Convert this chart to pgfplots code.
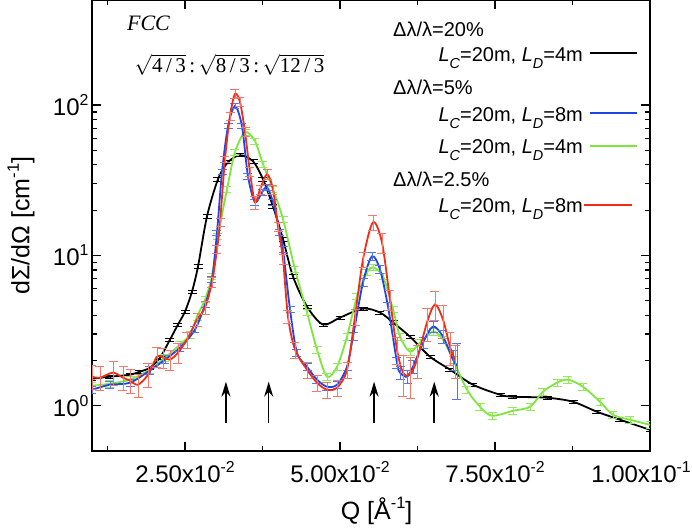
\documentclass[border=0pt]{standalone}
\usepackage{fontspec}
\setmainfont{Liberation Sans}
\newfontfamily\timesfont{Liberation Serif}
\usepackage{pgfplots}
\pgfplotsset{compat=1.18}
\usepackage{pgfplotstable}
\usetikzlibrary{arrows.meta}

\makeatletter
\newcommand\sups[1]{\raisebox{0.42em}{\fontsize{\fpeval{0.66*\f@size}}{1}\selectfont #1}}
\newcommand\subs[1]{\raisebox{-0.32em}{\fontsize{\fpeval{0.72*\f@size}}{1}\selectfont #1}}
\makeatother

\definecolor{cblue}{RGB}{30,70,230}
\definecolor{cgreen}{RGB}{125,230,60}
\definecolor{cred}{RGB}{240,45,25}

\pgfplotstableread{
x y
0.0100 1.514
0.0129 1.561
0.01613 1.609
0.01774 1.686
0.01935 1.791
0.02097 2.089
0.02258 2.754
0.02387 3.47
0.0250 4.233
0.02613 5.75
0.0271 8.45
0.02855 18.2
0.03032 32.1
0.03194 41.7
0.03387 46.4
0.03597 42.3
0.03758 32.1
0.03919 21.2
0.04081 12.8
0.04242 7.24
0.04468 4.57
0.04726 3.47
0.0500 3.86
0.05371 4.43
0.05645 4.17
0.05855 3.58
0.06129 2.88
0.06452 2.12
0.06774 1.74
0.07145 1.38
0.07581 1.184
0.0779 1.148
0.08339 1.131
0.08758 1.063
0.09145 0.912
0.09516 0.807
0.1000 0.692
}\blackdata

\pgfplotstableread{
x y
0.0100 1.359
0.0129 1.402
0.01613 1.491
0.01935 1.738
0.02177 2.089
0.02419 2.551
0.02581 2.973
0.02694 3.92
0.02823 5.09
0.02935 7.24
0.03032 13.4
0.03177 27.5
0.03306 48.6
0.03468 66.1
0.03629 57.5
0.03758 40.4
0.03919 27.5
0.04081 17.4
0.04274 8.07
0.04468 4.17
0.04629 2.362
0.0479 1.561
0.04952 1.820
0.05113 2.884
0.05274 5.33
0.05435 7.70
0.05532 8.32
0.05694 7.24
0.05855 4.37
0.05968 2.884
0.06129 2.291
0.0629 2.630
0.0650 3.113
0.06661 2.754
0.06823 2.026
0.07048 1.278
0.07258 0.985
0.07452 0.858
0.0779 0.926
0.08065 0.985
0.08274 1.240
0.0850 1.423
0.08677 1.491
0.08919 1.339
0.09194 1.063
0.09403 0.871
0.09677 0.807
0.1000 0.747
}\greendata

\pgfplotstableread{
x y e
0.0100 1.278 0.06
0.0129 1.380 0.06
0.01613 1.423 0.06
0.01935 1.72 0.06
0.02177 2.026 0.06
0.02419 2.436 0.06
0.02661 3.213 0.05
0.02823 4.715 0.05
0.02935 6.92 0.05
0.03016 14.2 0.04
0.03097 35.8 0.04
0.03194 72.4 0.04
0.03306 98.5 0.04
0.03419 72.4 0.04
0.03516 33.6 0.04
0.03629 22.6 0.05
0.03742 26.3 0.05
0.03823 28.4 0.05
0.03919 22.6 0.05
0.04032 14.2 0.05
0.04081 10.96 0.05
0.04194 4.37 0.05
0.04306 2.256 0.05
0.04468 1.820 0.05
0.04629 1.491 0.06
0.0479 1.339 0.06
0.04952 1.380 0.06
0.05113 1.820 0.06
0.0521 2.884 0.06
0.05371 6.61 0.06
0.05516 9.85 0.06
0.05645 8.07 0.06
0.05774 4.57 0.06
0.05919 1.935 0.08
0.05968 1.660 0.10
0.06081 1.561 0.10
0.06177 1.820 0.10
0.06339 2.630 0.08
0.0650 3.364 0.08
0.06661 2.884 0.10
0.06823 2.026 0.15
0.06887 1.848 0.40
}\bluedata

\pgfplotstableread{
x y e
0.0100 1.561 0.18
0.01129 1.537 0.18
0.01339 1.660 0.18
0.0150 1.537 0.18
0.01613 1.468 0.18
0.01742 1.380 0.18
0.01903 1.609 0.18
0.02048 2.122 0.15
0.02145 2.089 0.15
0.02258 2.026 0.15
0.02387 2.256 0.15
0.02532 2.754 0.12
0.02694 3.745 0.10
0.02823 4.50 0.10
0.02935 6.61 0.08
0.03016 10.96 0.06
0.03065 16.6 0.06
0.03145 43.7 0.05
0.03226 84.5 0.06
0.03306 118.4 0.07
0.03387 104.7 0.07
0.03468 66.1 0.07
0.03548 35.8 0.07
0.03629 22.6 0.10
0.0371 27.5 0.07
0.03823 34.7 0.07
0.03919 27.5 0.07
0.0400 15.6 0.07
0.04081 9.40 0.08
0.04161 3.92 0.10
0.04274 2.362 0.12
0.04468 1.738 0.12
0.04629 1.423 0.12
0.0479 1.278 0.12
0.04952 1.318 0.12
0.05113 1.738 0.12
0.05242 3.92 0.12
0.05371 9.40 0.12
0.05532 16.6 0.12
0.05677 12.2 0.15
0.05806 5.09 0.15
0.05919 2.362 0.20
0.06016 1.660 0.30
0.06129 1.609 0.30
0.06242 2.026 0.25
0.06403 3.58 0.25
0.06532 4.715 0.22
0.06661 3.745 0.25
0.06774 2.472 0.25
0.06855 2.026 0.25
}\reddata

\begin{document}
\begin{tikzpicture}
\useasboundingbox (-92pt,-76pt) rectangle (600pt,451pt);
\begin{axis}[
  scale only axis, width=558pt, height=451pt,
  at={(0pt,0pt)}, anchor=south west,
  xmin=0.01, xmax=0.1, ymode=log, ymin=0.5, ymax=500,
  xtick={0.025,0.05,0.075,0.1},
  xticklabels={2.50x10\sups{-2}, 5.00x10\sups{-2}, 7.50x10\sups{-2}, \hspace*{-18pt}1.00x10\sups{-1}},
  minor xtick={0.0125,0.0375,0.0625,0.0875},
  ytick={1,10,100},
  yticklabels={10\sups{0},10\sups{1},10\sups{2}},
  scaled x ticks=false,
  tick align=inside, major tick length=9pt, minor tick length=5pt,
  every tick/.style={black, line width=1.2pt},
  axis line style={line width=1.6pt},
  ticklabel style={font=\fontsize{24}{28}\selectfont},
  xticklabel style={yshift=-7pt},
  xlabel={Q [Å\sups{-1}]},
  ylabel={dΣ/dΩ [cm\sups{-1}]},
  xlabel style={font=\fontsize{25}{30}\selectfont, at={(axis description cs:0.51,-0.133)}, anchor=center},
  ylabel style={font=\fontsize{25}{30}\selectfont, at={(axis description cs:-0.127,0.5)}, anchor=center},
]
\addplot[black, line width=1.8pt, smooth, tension=0.5,
  error bars/.cd, y dir=both, y fixed relative=0.025,
  error bar style={line width=0.8pt, black},
  error mark options={rotate=90, mark size=4.5pt, line width=0.8pt, black}] table[x=x,y=y] {\blackdata};
\addplot[cgreen, line width=1.8pt, smooth, tension=0.5,
  error bars/.cd, y dir=both, y fixed relative=0.05,
  error bar style={line width=0.8pt, cgreen!85!white},
  error mark options={rotate=90, mark size=4.5pt, line width=0.8pt, cgreen!85!white}] table[x=x,y=y] {\greendata};
\addplot[cblue, line width=1.8pt, smooth, tension=0.5,
  error bars/.cd, y dir=both, y explicit relative,
  error bar style={line width=0.8pt, cblue!75!white},
  error mark options={rotate=90, mark size=4.5pt, line width=0.8pt, cblue!75!white}] table[x=x,y=y,y error=e] {\bluedata};
\addplot[cred, line width=1.8pt, smooth, tension=0.5,
  error bars/.cd, y dir=both, y explicit relative,
  error bar style={line width=0.8pt, cred!65!white},
  error mark options={rotate=90, mark size=4.5pt, line width=0.8pt, cred!65!white}] table[x=x,y=y,y error=e] {\reddata};

\draw[-{Stealth[length=15pt,width=9pt]}, line width=1.5pt] (axis cs:0.0316,0.77) -- (axis cs:0.0316,1.445);
\draw[-{Stealth[length=15pt,width=9pt]}, line width=1.5pt] (axis cs:0.0385,0.77) -- (axis cs:0.0385,1.445);
\draw[-{Stealth[length=15pt,width=9pt]}, line width=1.5pt] (axis cs:0.0555,0.77) -- (axis cs:0.0555,1.445);
\draw[-{Stealth[length=15pt,width=9pt]}, line width=1.5pt] (axis cs:0.0652,0.77) -- (axis cs:0.0652,1.445);
\end{axis}

\node[font=\timesfont\itshape\fontsize{22}{26}\selectfont] at (56.5pt,428pt) {FCC};
\node[font=\timesfont\fontsize{21}{25}\selectfont] at (137.5pt,386pt) {$\sqrt{\mbox{4\,/\,3}}$\,:\,$\sqrt{\mbox{8\,/\,3}}$\,:\,$\sqrt{\mbox{12\,/\,3}}$};

\begin{scope}[every node/.style={font=\fontsize{20}{24}\selectfont, inner sep=0pt}]
\node[anchor=base west] at (301pt,414pt) {Δλ/λ=20\%};
\node[anchor=base east] at (491pt,389pt) {\textit{L}\subs{\textit{C}}=20m, \textit{L}\subs{\textit{D}}=4m};
\draw[black, line width=1.8pt] (498pt,398pt) -- (545pt,398pt);
\node[anchor=base west] at (301pt,356pt) {Δλ/λ=5\%};
\node[anchor=base east] at (491pt,329pt) {\textit{L}\subs{\textit{C}}=20m, \textit{L}\subs{\textit{D}}=8m};
\draw[cblue, line width=1.8pt] (498pt,338pt) -- (545pt,338pt);
\node[anchor=base east] at (491pt,297pt) {\textit{L}\subs{\textit{C}}=20m, \textit{L}\subs{\textit{D}}=4m};
\draw[cgreen, line width=1.8pt] (498pt,305pt) -- (545pt,305pt);
\node[anchor=base west] at (301pt,264pt) {Δλ/λ=2.5\%};
\node[anchor=base east] at (491pt,238pt) {\textit{L}\subs{\textit{C}}=20m, \textit{L}\subs{\textit{D}}=8m};
\draw[cred, line width=1.8pt] (492pt,246pt) -- (540pt,246pt);
\end{scope}
\end{tikzpicture}
\end{document}
